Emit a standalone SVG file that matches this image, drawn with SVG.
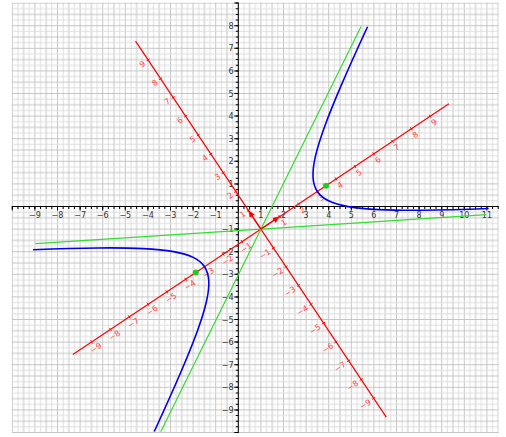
<svg xmlns="http://www.w3.org/2000/svg" width="506" height="437" viewBox="0 0 506 437">
<style>
.ax{font-family:"DejaVu Sans",sans-serif;font-size:8px;fill:#333}
.rl{font-family:"DejaVu Sans",sans-serif;font-size:8px;fill:#f44}
.ns{vector-effect:non-scaling-stroke;fill:none}
</style>
<defs>
<pattern id="grid" patternUnits="userSpaceOnUse" x="237.8" y="206" width="22.6" height="22.6">
<rect x="0" y="0" width="1" height="22.6" fill="#c6c6c6"/>
<rect x="11.3" y="0" width="1" height="22.6" fill="#c6c6c6"/>
<rect x="5.65" y="0" width="1" height="22.6" fill="#dedede"/>
<rect x="16.95" y="0" width="1" height="22.6" fill="#dedede"/>
<rect x="0" y="0" width="22.6" height="1" fill="#c6c6c6"/>
<rect x="0" y="11.3" width="22.6" height="1" fill="#c6c6c6"/>
<rect x="0" y="5.65" width="22.6" height="1" fill="#dedede"/>
<rect x="0" y="16.95" width="22.6" height="1" fill="#dedede"/>
</pattern>
<marker id="arr" markerUnits="userSpaceOnUse" markerWidth="8" markerHeight="6" refX="7" refY="3" orient="auto" viewBox="0 0 8 6">
<path d="M0,0 L7,3 L0,6 Z" fill="red"/>
</marker>
</defs>
<rect x="0" y="0" width="506" height="437" fill="#fff"/>
<rect x="11.8" y="2.6" width="486.9" height="430.4" fill="url(#grid)"/>

<g id="axes" stroke="#000">
<line x1="11.8" y1="206.5" x2="498.7" y2="206.5" stroke-width="1"/>
<line x1="238.3" y1="2.6" x2="238.3" y2="433" stroke-width="1"/>
<line x1="11.8" y1="207.75" x2="498.7" y2="207.75" stroke-width="2.5" stroke-dasharray="1 4.65"/>
<line x1="11.8" y1="208.5" x2="498.7" y2="208.5" stroke-width="4" stroke-dasharray="1 21.6"/>
<line x1="237.05" y1="2.6" x2="237.05" y2="433" stroke-width="2.5" stroke-dasharray="1 4.65"/>
<line x1="236.3" y1="2.6" x2="236.3" y2="433" stroke-width="4" stroke-dasharray="1 21.6"/>
</g>

<g id="xlabels" class="ax" text-anchor="middle">
<text x="34.9" y="218">−9</text><text x="57.5" y="218">−8</text><text x="80.1" y="218">−7</text>
<text x="102.7" y="218">−6</text><text x="125.3" y="218">−5</text><text x="147.9" y="218">−4</text>
<text x="170.5" y="218">−3</text><text x="193.1" y="218">−2</text><text x="215.7" y="218">−1</text>
<text x="260.9" y="218">1</text><text x="283.5" y="218">2</text><text x="306.1" y="218">3</text>
<text x="328.7" y="218">4</text><text x="351.3" y="218">5</text><text x="373.9" y="218">6</text>
<text x="396.5" y="218">7</text><text x="419.1" y="218">8</text><text x="441.7" y="218">9</text>
<text x="464.3" y="218">10</text><text x="486.9" y="218">11</text>
</g>
<g id="ylabels" class="ax" text-anchor="end">
<text x="233.5" y="28.7">8</text><text x="233.5" y="51.3">7</text><text x="233.5" y="73.9">6</text>
<text x="233.5" y="96.5">5</text><text x="233.5" y="119.1">4</text><text x="233.5" y="141.7">3</text>
<text x="233.5" y="164.3">2</text><text x="233.5" y="186.9">1</text>
<text x="233.5" y="232.1">−1</text><text x="233.5" y="254.7">−2</text><text x="233.5" y="277.3">−3</text>
<text x="233.5" y="299.9">−4</text><text x="233.5" y="322.5">−5</text><text x="233.5" y="345.1">−6</text>
<text x="233.5" y="367.7">−7</text><text x="233.5" y="390.3">−8</text><text x="233.5" y="412.9">−9</text>
</g>

<g id="rotated-labels" class="rl" transform="translate(260.9 229.1) rotate(-33.69)">
<g text-anchor="middle">
<text x="22.6" y="10">1</text><text x="45.2" y="10">2</text><text x="67.8" y="10">3</text>
<text x="90.4" y="10">4</text><text x="113" y="10">5</text><text x="135.6" y="10">6</text>
<text x="158.2" y="10">7</text><text x="180.8" y="10">8</text><text x="203.4" y="10">9</text>
<text x="-22.6" y="10">−1</text><text x="-45.2" y="10">−2</text><text x="-67.8" y="10">−3</text>
<text x="-90.4" y="10">−4</text><text x="-113" y="10">−5</text><text x="-135.6" y="10">−6</text>
<text x="-158.2" y="10">−7</text><text x="-180.8" y="10">−8</text><text x="-203.4" y="10">−9</text>
</g>
<g text-anchor="end">
<text x="-4.5" y="-19.6">1</text><text x="-4.5" y="-42.2">2</text><text x="-4.5" y="-64.8">3</text>
<text x="-4.5" y="-87.4">4</text><text x="-4.5" y="-110">5</text><text x="-4.5" y="-132.6">6</text>
<text x="-4.5" y="-155.2">7</text><text x="-4.5" y="-177.8">8</text><text x="-4.5" y="-200.4">9</text>
<text x="-4.5" y="25.6">−1</text><text x="-4.5" y="48.2">−2</text><text x="-4.5" y="70.8">−3</text>
<text x="-4.5" y="93.4">−4</text><text x="-4.5" y="116">−5</text><text x="-4.5" y="138.6">−6</text>
<text x="-4.5" y="161.2">−7</text><text x="-4.5" y="183.8">−8</text><text x="-4.5" y="206.4">−9</text>
</g>
</g>

<g id="connectors" transform="matrix(18.8043 -12.5362 -12.5362 -18.8043 260.9 229.1)">
<g id="red-axes" stroke="red">
<path class="ns" stroke-width="1.2" d="M-10,0 L10,0 M0,-10 L0,10"/>
<path class="ns" stroke-width="1" d="M-9,-0.08 L-9,0.08 M-8,-0.08 L-8,0.08 M-7,-0.08 L-7,0.08 M-6,-0.08 L-6,0.08 M-5,-0.08 L-5,0.08 M-4,-0.08 L-4,0.08 M-3,-0.08 L-3,0.08 M-2,-0.08 L-2,0.08 M-1,-0.08 L-1,0.08 M1,-0.08 L1,0.08 M2,-0.08 L2,0.08 M3,-0.08 L3,0.08 M4,-0.08 L4,0.08 M5,-0.08 L5,0.08 M6,-0.08 L6,0.08 M7,-0.08 L7,0.08 M8,-0.08 L8,0.08 M9,-0.08 L9,0.08 M-0.08,-9 L0.08,-9 M-0.08,-8 L0.08,-8 M-0.08,-7 L0.08,-7 M-0.08,-6 L0.08,-6 M-0.08,-5 L0.08,-5 M-0.08,-4 L0.08,-4 M-0.08,-3 L0.08,-3 M-0.08,-2 L0.08,-2 M-0.08,-1 L0.08,-1 M-0.08,1 L0.08,1 M-0.08,2 L0.08,2 M-0.08,3 L0.08,3 M-0.08,4 L0.08,4 M-0.08,5 L0.08,5 M-0.08,6 L0.08,6 M-0.08,7 L0.08,7 M-0.08,8 L0.08,8 M-0.08,9 L0.08,9"/>
</g>
<g id="asymptotes" stroke="#33dd33">
<path class="ns" stroke-width="1.2" d="M-8.66,-5 L8.66,5 M-8.66,5 L8.66,-5"/>
</g>
<g id="hyperbola" stroke="#0000ee">
<path class="ns" stroke-width="1.6" d="M8.89256,-4.83314 C7.91591,-4.23416 7.11920,-3.73299 6.45269,-3.29835 C5.78618,-2.86371 5.25023,-2.49583 4.81138,-2.17175 C4.37253,-1.84767 4.03101,-1.56755 3.76551,-1.31391 C3.50001,-1.06027 3.31065,-0.83325 3.18563,-0.61867 C3.06061,-0.40409 3,-0.20207 3,0 C3,0.20207 3.06061,0.40409 3.18563,0.61867 C3.31065,0.83325 3.50001,1.06027 3.76551,1.31391 C4.03101,1.56755 4.37253,1.84767 4.81138,2.17175 C5.25023,2.49583 5.78618,2.86371 6.45269,3.29835 C7.11920,3.73299 7.91591,4.23416 8.89256,4.83314"/>
<path class="ns" stroke-width="1.6" d="M-8.89256,-4.83314 C-7.91591,-4.23416 -7.11920,-3.73299 -6.45269,-3.29835 C-5.78618,-2.86371 -5.25023,-2.49583 -4.81138,-2.17175 C-4.37253,-1.84767 -4.03101,-1.56755 -3.76551,-1.31391 C-3.50001,-1.06027 -3.31065,-0.83325 -3.18563,-0.61867 C-3.06061,-0.40409 -3,-0.20207 -3,0 C-3,0.20207 -3.06061,0.40409 -3.18563,0.61867 C-3.31065,0.83325 -3.50001,1.06027 -3.76551,1.31391 C-4.03101,1.56755 -4.37253,1.84767 -4.81138,2.17175 C-5.25023,2.49583 -5.78618,2.86371 -6.45269,3.29835 C-7.11920,3.73299 -7.91591,4.23416 -8.89256,4.83314"/>
</g>
</g>

<g id="unit-vectors" stroke="red" stroke-width="1.2" fill="none">
<line x1="260.9" y1="229.1" x2="279.7" y2="216.56" marker-end="url(#arr)"/>
<line x1="260.9" y1="229.1" x2="248.36" y2="210.3" marker-end="url(#arr)"/>
</g>

<g id="foci" fill="#22cc22">
<circle cx="326.04" cy="185.67" r="3"/>
<circle cx="195.76" cy="272.53" r="3"/>
</g>
</svg>
